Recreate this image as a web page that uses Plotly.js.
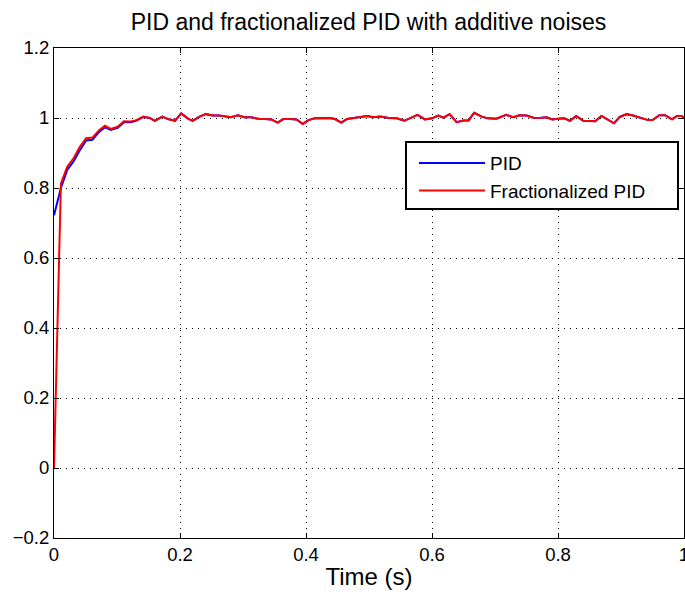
<!DOCTYPE html>
<html>
<head>
<meta charset="utf-8">
<script src="https://cdn.plot.ly/plotly-3.0.1.min.js"></script>
<style>html,body{margin:0;padding:0;background:#fff;}#chart{width:685px;height:594px;}</style>
</head>
<body>
<div id="chart"></div>
<script>
var time = [0, 0.011, 0.021, 0.031, 0.041, 0.051, 0.061, 0.072, 0.081, 0.090, 0.101, 0.111, 0.122, 0.131, 0.142, 0.152, 0.160, 0.172, 0.181, 0.192, 0.202, 0.212, 0.220, 0.231, 0.241, 0.252, 0.262, 0.273, 0.281, 0.292, 0.302, 0.313, 0.326, 0.335, 0.345, 0.355, 0.364, 0.375, 0.385, 0.395, 0.404, 0.414, 0.425, 0.438, 0.446, 0.456, 0.465, 0.478, 0.487, 0.497, 0.507, 0.518, 0.531, 0.544, 0.556, 0.565, 0.577, 0.589, 0.600, 0.610, 0.618, 0.628, 0.639, 0.650, 0.658, 0.667, 0.679, 0.689, 0.702, 0.718, 0.729, 0.739, 0.750, 0.761, 0.771, 0.782, 0.791, 0.800, 0.810, 0.819, 0.829, 0.840, 0.851, 0.859, 0.869, 0.880, 0.889, 0.898, 0.909, 0.919, 0.930, 0.943, 0.950, 0.961, 0.970, 0.981, 0.989, 0.996, 1.0];

var fracPID = [0, 0.813, 0.861, 0.885, 0.918, 0.942, 0.944, 0.966, 0.978, 0.969, 0.975, 0.991, 0.990, 0.994, 1.004, 1.000, 0.992, 1.004, 0.997, 0.992, 1.013, 0.999, 0.992, 1.004, 1.011, 1.007, 1.007, 1.004, 1.002, 1.008, 1.002, 1.002, 0.997, 0.997, 0.996, 0.987, 0.997, 0.997, 0.996, 0.983, 0.994, 0.999, 1.000, 1.000, 0.997, 0.987, 0.997, 1.001, 1.005, 1.006, 1.002, 1.004, 1.000, 0.999, 0.992, 0.999, 1.009, 0.996, 0.999, 1.007, 1.001, 1.011, 0.988, 0.993, 0.993, 1.015, 1.004, 0.999, 0.998, 1.009, 1.002, 1.008, 1.007, 1.001, 1.000, 1.002, 0.996, 0.998, 0.999, 0.992, 1.006, 0.992, 0.992, 0.991, 1.006, 0.994, 0.985, 1.003, 1.011, 1.007, 1.002, 0.994, 0.994, 1.008, 1.008, 0.996, 1.006, 1.006, 1.002];

var pid = [0.722, 0.800, 0.852, 0.876, 0.908, 0.936, 0.938, 0.961, 0.974, 0.966, 0.972, 0.988, 0.988, 0.993, 1.003, 1.000, 0.992, 1.004, 0.997, 0.992, 1.013, 0.999, 0.992, 1.004, 1.011, 1.007, 1.007, 1.004, 1.002, 1.008, 1.002, 1.002, 0.997, 0.997, 0.996, 0.987, 0.997, 0.997, 0.996, 0.983, 0.994, 0.999, 1.000, 1.000, 0.997, 0.987, 0.997, 1.001, 1.005, 1.006, 1.002, 1.004, 1.000, 0.999, 0.992, 0.999, 1.009, 0.996, 0.999, 1.007, 1.001, 1.011, 0.988, 0.993, 0.993, 1.015, 1.004, 0.999, 0.998, 1.009, 1.002, 1.008, 1.007, 1.001, 1.000, 1.002, 0.996, 0.998, 0.999, 0.992, 1.006, 0.992, 0.992, 0.991, 1.006, 0.994, 0.985, 1.003, 1.011, 1.007, 1.002, 0.994, 0.994, 1.008, 1.008, 0.996, 1.006, 1.006, 1.002];

var seriesNames = ['PID', 'Fractionalized PID'];
var xTicks = [0, 0.2, 0.4, 0.6, 0.8, 1];
var xTickText = ['0', '0.2', '0.4', '0.6', '0.8', '1'];
var yTicks = [-0.2, 0, 0.2, 0.4, 0.6, 0.8, 1, 1.2];
var yTickText = ['\u22120.2', '0', '0.2', '0.4', '0.6', '0.8', '1', '1.2'];

var font = 'Liberation Sans, Arial, Helvetica, sans-serif';

var traces = [
  {x: time, y: pid, name: seriesNames[0], type: 'scatter', mode: 'lines',
   line: {color: '#0000ff', width: 2}},
  {x: time, y: fracPID, name: seriesNames[1], type: 'scatter', mode: 'lines',
   line: {color: '#ff0000', width: 2}}
];

var axisCommon = {
  showline: true, mirror: 'ticks', linecolor: '#000', linewidth: 1,
  ticks: 'inside', ticklen: 5, tickcolor: '#000', tickwidth: 1,
  showgrid: true, gridcolor: '#000', griddash: '1px,5px', gridwidth: 1,
  zeroline: false, ticklabeloverflow: 'allow',
  tickfont: {family: font, size: 18.5, color: '#000'}
};

var layout = {
  width: 685, height: 594,
  margin: {l: 54, r: 1, t: 48, b: 56},
  paper_bgcolor: '#fff', plot_bgcolor: '#fff',
  font: {family: font, color: '#000'},
  title: {text: 'PID and fractionalized PID with additive noises',
          font: {family: font, size: 23, color: '#000'},
          x: 0.538, xanchor: 'center', y: 0.963, yanchor: 'middle'},
  xaxis: Object.assign({}, axisCommon, {
    range: [0, 1], tickmode: 'array', tickvals: xTicks, ticktext: xTickText,
    title: {text: 'Time (s)', font: {family: font, size: 24, color: '#000'}, standoff: 3}
  }),
  yaxis: Object.assign({}, axisCommon, {
    range: [-0.2, 1.2], tickmode: 'array', tickvals: yTicks, ticktext: yTickText
  }),
  shapes: [
    {type: 'rect', xref: 'paper', yref: 'paper', x0: 0.5587, x1: 0.9905, y0: 0.6714, y1: 0.8082,
     line: {color: '#000', width: 2}, fillcolor: '#fff', layer: 'above'}
  ],
  showlegend: true,
  legend: {x: 0.5714, y: 0.804, xanchor: 'left', yanchor: 'top',
           bgcolor: 'rgba(0,0,0,0)', borderwidth: 0,
           font: {family: font, size: 19, color: '#000'},
           itemwidth: 66, tracegroupgap: 0}
};

Plotly.newPlot('chart', traces, layout, {displayModeBar: false, staticPlot: true});
</script>
</body>
</html>
